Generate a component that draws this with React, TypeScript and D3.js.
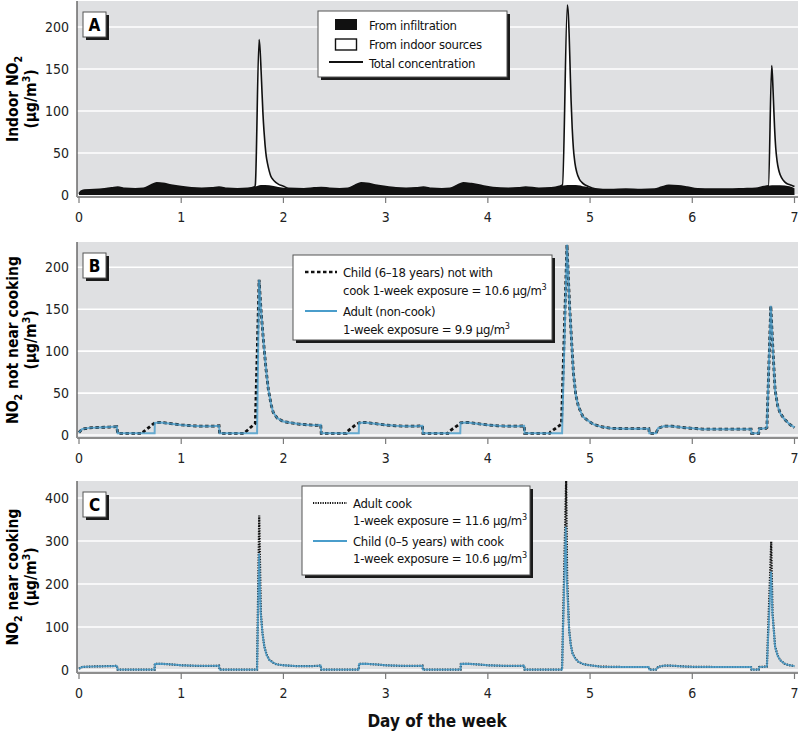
import React from 'react';
import * as d3 from 'd3';

type Pt = [number, number];

// ---- data (day, µg/m3) ----
const days = [0, 1, 2, 3, 4, 5, 6, 7];
const ticksAB = [0, 50, 100, 150, 200];
const ticksC = [0, 100, 200, 300, 400];

const infiltration: Pt[] = [
  [0, 1.5], [0.02, 4.5], [0.05, 6], [0.15, 6.5], [0.25, 7.5], [0.32, 8.5], [0.38, 9.5], [0.45, 8], [0.55, 7.5],
  [0.63, 8], [0.7, 11.5], [0.76, 14.5], [0.82, 14], [0.9, 12], [1.0, 10], [1.1, 8.5], [1.2, 8], [1.3, 8.5],
  [1.37, 9.5], [1.45, 8], [1.55, 7.5], [1.65, 8], [1.72, 10], [1.78, 12], [1.86, 11.5], [1.95, 9.5], [2.05, 8],
  [2.2, 7.5], [2.3, 8.5], [2.37, 9], [2.45, 8], [2.55, 7.5], [2.63, 8], [2.7, 11.5], [2.76, 14.5], [2.82, 14],
  [2.9, 12], [3.0, 10], [3.1, 8.5], [3.2, 8], [3.3, 8.5], [3.37, 9.5], [3.45, 8], [3.55, 7.5], [3.63, 8],
  [3.7, 11.5], [3.76, 14.5], [3.84, 13.5], [3.95, 11], [4.05, 9], [4.2, 8], [4.3, 8.5], [4.37, 9.5], [4.5, 8],
  [4.62, 8.5], [4.7, 10.5], [4.78, 12], [4.86, 12], [4.95, 10], [5.05, 7.5], [5.2, 6.5], [5.35, 7], [5.5, 6.5],
  [5.63, 7], [5.7, 9.5], [5.77, 11.5], [5.86, 11], [5.95, 9.5], [6.05, 7.5], [6.2, 7], [6.35, 7], [6.5, 7.5],
  [6.62, 8], [6.7, 10], [6.78, 11.5], [6.86, 11.5], [6.95, 10.5], [7.0, 8],
];

const totalConc: Pt[] = [
  [0, 1.5], [0.02, 4.5], [0.05, 6], [0.15, 6.5], [0.25, 7.5], [0.32, 8.5], [0.38, 9.5], [0.45, 8], [0.55, 7.5],
  [0.63, 8], [0.7, 11.5], [0.76, 14.5], [0.82, 14], [0.9, 12], [1.0, 10], [1.1, 8.5], [1.2, 8], [1.3, 8.5],
  [1.37, 9.5], [1.45, 8], [1.55, 7.5], [1.65, 8], [1.72, 10], [1.725, 12], [1.762, 185], [1.772, 172], [1.786, 135],
  [1.8, 96], [1.81, 76], [1.82, 60], [1.832, 46], [1.845, 37], [1.86, 29], [1.875, 23], [1.9, 18], [1.925, 15],
  [1.95, 13], [1.975, 11.5], [2.0, 10.5], [2.05, 8],
  [2.2, 7.5], [2.3, 8.5], [2.37, 9], [2.45, 8], [2.55, 7.5], [2.63, 8], [2.7, 11.5], [2.76, 14.5], [2.82, 14],
  [2.9, 12], [3.0, 10], [3.1, 8.5], [3.2, 8], [3.3, 8.5], [3.37, 9.5], [3.45, 8], [3.55, 7.5], [3.63, 8],
  [3.7, 11.5], [3.76, 14.5], [3.84, 13.5], [3.95, 11], [4.05, 9], [4.2, 8], [4.3, 8.5], [4.37, 9.5], [4.5, 8],
  [4.62, 8.5], [4.7, 10.5], [4.73, 12], [4.778, 226], [4.787, 215], [4.795, 192], [4.805, 150], [4.814, 113],
  [4.825, 80], [4.837, 55], [4.852, 38], [4.87, 27], [4.895, 19], [4.92, 15], [4.945, 12.5], [4.97, 11],
  [5.05, 7.5], [5.2, 6.5], [5.35, 7], [5.5, 6.5],
  [5.63, 7], [5.7, 9.5], [5.77, 11.5], [5.86, 11], [5.95, 9.5], [6.05, 7.5], [6.2, 7], [6.35, 7], [6.5, 7.5],
  [6.62, 8], [6.7, 10], [6.745, 11], [6.777, 154], [6.785, 140], [6.794, 113], [6.805, 80], [6.817, 55],
  [6.83, 40], [6.845, 30], [6.86, 24], [6.89, 17.5], [6.92, 14], [6.95, 12.5], [6.97, 11.5], [7.0, 10],
];

const childNotWithCook: Pt[] = [
  [0, 3], [0.03, 7], [0.1, 8.5], [0.2, 9], [0.3, 9.5], [0.37, 10], [0.378, 2], [0.625, 2], [0.632, 4], [0.715, 12],
  [0.742, 14.5], [0.8, 15], [0.9, 13.5], [1.0, 12], [1.1, 11], [1.2, 10.5], [1.3, 10.5], [1.37, 11], [1.376, 2],
  [1.62, 2], [1.628, 3.5], [1.725, 14], [1.762, 185], [1.78, 150], [1.804, 113], [1.83, 78], [1.853, 54],
  [1.88, 36], [1.9, 27], [1.94, 20], [2.0, 16], [2.07, 14.5], [2.15, 13], [2.25, 12], [2.33, 11.5], [2.365, 12],
  [2.37, 2], [2.615, 2], [2.622, 4], [2.705, 12], [2.74, 14.5], [2.8, 15], [2.9, 13.5], [3.0, 12], [3.1, 11],
  [3.2, 10.5], [3.3, 10.5], [3.36, 11], [3.365, 2], [3.61, 2], [3.617, 4], [3.71, 12], [3.733, 14.5], [3.8, 15],
  [3.9, 13.5], [4.0, 12], [4.1, 11], [4.2, 10.5], [4.3, 10.5], [4.355, 11], [4.36, 2], [4.605, 2], [4.612, 3.5],
  [4.72, 13], [4.774, 227], [4.8, 153], [4.837, 74], [4.86, 48], [4.886, 34], [4.93, 22], [4.97, 18], [5.03, 13],
  [5.1, 10], [5.2, 8], [5.35, 7.5], [5.5, 7.5], [5.575, 7.5], [5.58, 2], [5.645, 2], [5.665, 8], [5.72, 10.5],
  [5.8, 10.5], [5.9, 9], [6.0, 8], [6.1, 7], [6.3, 7], [6.575, 7], [6.58, 2], [6.65, 2], [6.655, 7.5], [6.72, 8],
  [6.73, 9], [6.768, 154], [6.784, 113], [6.81, 54], [6.835, 35], [6.86, 26], [6.9, 19], [6.925, 16], [6.96, 12],
  [7.0, 9],
];

const adultNonCook: Pt[] = [
  [0, 3], [0.03, 7], [0.1, 8.5], [0.2, 9], [0.3, 9.5], [0.37, 10], [0.378, 2], [0.74, 2],
  [0.742, 14.5], [0.8, 15], [0.9, 13.5], [1.0, 12], [1.1, 11], [1.2, 10.5], [1.3, 10.5], [1.37, 11], [1.376, 2],
  [1.742, 2], [1.762, 185], [1.78, 150], [1.804, 113], [1.83, 78], [1.853, 54],
  [1.88, 36], [1.9, 27], [1.94, 20], [2.0, 16], [2.07, 14.5], [2.15, 13], [2.25, 12], [2.33, 11.5], [2.365, 12],
  [2.37, 2], [2.737, 2], [2.74, 14.5], [2.8, 15], [2.9, 13.5], [3.0, 12], [3.1, 11],
  [3.2, 10.5], [3.3, 10.5], [3.36, 11], [3.365, 2], [3.73, 2], [3.733, 14.5], [3.8, 15],
  [3.9, 13.5], [4.0, 12], [4.1, 11], [4.2, 10.5], [4.3, 10.5], [4.355, 11], [4.36, 2], [4.726, 2],
  [4.774, 227], [4.8, 153], [4.837, 74], [4.86, 48], [4.886, 34], [4.93, 22], [4.97, 18], [5.03, 13],
  [5.1, 10], [5.2, 8], [5.35, 7.5], [5.5, 7.5], [5.575, 7.5], [5.58, 2], [5.645, 2], [5.665, 8], [5.72, 10.5],
  [5.8, 10.5], [5.9, 9], [6.0, 8], [6.1, 7], [6.3, 7], [6.575, 7], [6.58, 2], [6.65, 2], [6.655, 7.5], [6.72, 8],
  [6.73, 9], [6.768, 154], [6.784, 113], [6.81, 54], [6.835, 35], [6.86, 26], [6.9, 19], [6.925, 16], [6.96, 12],
  [7.0, 9],
];

const adultCook: Pt[] = [
  [0, 3], [0.03, 7], [0.1, 8], [0.2, 8.5], [0.3, 9], [0.37, 9.5], [0.378, 1], [0.74, 1], [0.742, 14], [0.8, 14.5],
  [0.9, 13], [1.0, 11], [1.1, 10], [1.2, 9.5], [1.3, 9.5], [1.37, 10], [1.376, 1], [1.742, 1], [1.763, 359],
  [1.779, 133], [1.795, 86], [1.813, 55], [1.835, 36], [1.862, 24], [1.9, 17], [1.934, 13], [2.0, 11], [2.13, 9],
  [2.25, 9], [2.33, 9.5], [2.365, 10.5], [2.37, 1], [2.737, 1], [2.74, 14], [2.8, 14.5], [2.9, 13], [3.0, 11],
  [3.1, 10], [3.2, 9.5], [3.3, 9.5], [3.36, 10], [3.365, 1], [3.733, 1], [3.736, 14], [3.8, 14.5], [3.9, 13],
  [4.0, 11], [4.1, 10], [4.2, 9.5], [4.3, 9.5], [4.355, 10], [4.36, 1], [4.726, 1], [4.766, 445], [4.776, 212],
  [4.795, 94], [4.81, 61], [4.827, 40], [4.855, 27], [4.886, 19], [4.93, 14], [4.97, 12], [5.1, 8], [5.3, 7],
  [5.575, 7], [5.58, 1], [5.645, 1], [5.665, 7], [5.72, 10], [5.8, 10], [5.9, 8.5], [6.0, 7.5], [6.2, 7],
  [6.575, 7], [6.58, 1], [6.65, 1], [6.655, 7], [6.73, 8], [6.772, 298], [6.785, 133], [6.81, 55], [6.835, 34],
  [6.86, 23], [6.9, 15], [6.935, 12], [7.0, 9],
];

const childWithCook: Pt[] = [
  [0, 3], [0.03, 7], [0.1, 8], [0.2, 8.5], [0.3, 9], [0.37, 9.5], [0.378, 1], [0.74, 1], [0.742, 14], [0.8, 14.5],
  [0.9, 13], [1.0, 11], [1.1, 10], [1.2, 9.5], [1.3, 9.5], [1.37, 10], [1.376, 1], [1.742, 1], [1.762, 271],
  [1.778, 132], [1.795, 85], [1.813, 54], [1.835, 35], [1.862, 23], [1.9, 17], [1.934, 13], [2.0, 11], [2.13, 9],
  [2.25, 9], [2.33, 9.5], [2.365, 10.5], [2.37, 1], [2.737, 1], [2.74, 14], [2.8, 14.5], [2.9, 13], [3.0, 11],
  [3.1, 10], [3.2, 9.5], [3.3, 9.5], [3.36, 10], [3.365, 1], [3.733, 1], [3.736, 14], [3.8, 14.5], [3.9, 13],
  [4.0, 11], [4.1, 10], [4.2, 9.5], [4.3, 9.5], [4.355, 10], [4.36, 1], [4.726, 1], [4.762, 333], [4.772, 209],
  [4.795, 93], [4.81, 60], [4.827, 39], [4.855, 26], [4.886, 19], [4.93, 14], [4.97, 12], [5.1, 8], [5.3, 7],
  [5.575, 7], [5.58, 1], [5.645, 1], [5.665, 7], [5.72, 10], [5.8, 10], [5.9, 8.5], [6.0, 7.5], [6.2, 7],
  [6.575, 7], [6.58, 1], [6.65, 1], [6.655, 7], [6.73, 8], [6.771, 229], [6.784, 132], [6.81, 54], [6.835, 33],
  [6.86, 23], [6.9, 15], [6.935, 12], [7.0, 9],
];

const legendA = ['From infiltration', 'From indoor sources', 'Total concentration'];
const legendB = ['Child (6–18 years) not with', 'cook 1-week exposure = 10.6 µg/m', 'Adult (non-cook)', '1-week exposure = 9.9 µg/m'];
const legendC = ['Adult cook', '1-week exposure = 11.6 µg/m', 'Child (0–5 years) with cook', '1-week exposure = 10.6 µg/m'];

const FONT = "'DejaVu Sans Condensed', 'Liberation Sans Narrow', 'Arial Narrow', sans-serif";
const BLUE = '#4a9dcb';
const BG = '#dfe0e2';

const plotLeft = 77;
const plotRight = 798;

const x = d3.scaleLinear().domain([0, 7]).range([79, 794.5]);

function LabelBox({ x0, y0, text }: { x0: number; y0: number; text: string }) {
  return (
    <g>
      <rect x={x0 + 3} y={y0 + 3} width={23} height={25} fill="#1a1a1a" />
      <rect x={x0} y={y0} width={23} height={25} fill="#fff" stroke="#555" strokeWidth={1} />
      <text x={x0 + 11.5} y={y0 + 18.5} textAnchor="middle" fontWeight="bold" fontSize={17} fontFamily={FONT}>{text}</text>
    </g>
  );
}

function Sup({ t }: { t: string }) {
  return (
    <>
      {t}
      <tspan dy={-5} fontSize={9}>3</tspan>
    </>
  );
}

function Panel(props: {
  id: string; top: number; bottom: number; y: d3.ScaleLinear<number, number>; ticks: number[];
  label: string; title: string; titleAfter: string; children?: React.ReactNode;
}) {
  const { id, top, bottom, y, ticks, label, title, titleAfter } = props;
  const cy = (top + bottom) / 2;
  return (
    <g>
      <defs>
        <clipPath id={id}>
          <rect x={plotLeft} y={top} width={plotRight - plotLeft} height={bottom - top} />
        </clipPath>
      </defs>
      <rect x={plotLeft} y={top} width={plotRight - plotLeft} height={bottom - top} fill={BG} />
      {ticks.map(t => (
        <line key={t} x1={plotLeft} x2={plotRight} y1={y(t)} y2={y(t)} stroke="#fff" strokeWidth={1.6} />
      ))}
      {ticks.map(t => (
        <text key={'l' + t} x={69} y={y(t) + 5} textAnchor="end" fontSize={14} fontFamily={FONT} fill="#222">{t}</text>
      ))}
      <g clipPath={`url(#${id})`}>{props.children}</g>
      <line x1={plotLeft} x2={plotLeft} y1={top} y2={bottom} stroke="#555" strokeWidth={1.3} />
      <line x1={plotLeft} x2={plotRight} y1={bottom} y2={bottom} stroke="#8e8e8e" strokeWidth={2.2} />
      {days.map(d => (
        <g key={d}>
          <line x1={x(d)} x2={x(d)} y1={bottom} y2={bottom + 6} stroke="#7a7a7a" strokeWidth={1.2} />
          <text x={x(d)} y={bottom + 25} textAnchor="middle" fontSize={14} fontFamily={FONT} fill="#222">{d}</text>
        </g>
      ))}
      <text transform={`translate(18,${cy}) rotate(-90)`} textAnchor="middle" fontWeight="bold" fontSize={15.5} fontFamily={FONT}>
        {title}<tspan dy={4} fontSize={10.5}>2</tspan><tspan dy={-4}>{titleAfter}</tspan>
      </text>
      <text transform={`translate(36,${cy}) rotate(-90)`} textAnchor="middle" fontWeight="bold" fontSize={15.5} fontFamily={FONT}>
        (µg/m<tspan dy={-6} fontSize={10.5}>3</tspan><tspan dy={6}>)</tspan>
      </text>
      <LabelBox x0={83} y0={top + 11} text={label} />
    </g>
  );
}

export default function App() {
  const yA = d3.scaleLinear().domain([0, 200]).range([195, 27]);
  const yB = d3.scaleLinear().domain([0, 200]).range([435, 267.3]);
  const yC = d3.scaleLinear().domain([0, 400]).range([670, 498]);

  const lineOf = (y: d3.ScaleLinear<number, number>) =>
    d3.line<Pt>().x(d => x(d[0])).y(d => y(d[1]));
  const smoothLine = (y: d3.ScaleLinear<number, number>) =>
    d3.line<Pt>().x(d => x(d[0])).y(d => y(d[1])).curve(d3.curveMonotoneX);
  const areaOf = (y: d3.ScaleLinear<number, number>) =>
    d3.area<Pt>().x(d => x(d[0])).y0(y(0)).y1(d => y(d[1])).curve(d3.curveMonotoneX);

  const txt = { fontSize: 13, fontFamily: FONT, fill: '#111', letterSpacing: -0.3 } as const;

  return (
    <svg width={800} height={731} style={{ position: 'absolute', left: 0, top: 0, background: '#fff' }}>
      {/* Panel A */}
      <Panel id="clipA" top={1} bottom={197} y={yA} ticks={ticksAB} label="A" title="Indoor NO" titleAfter="">
        <path d={areaOf(yA)(totalConc) ?? ''} fill="#fff" />
        <path d={areaOf(yA)(infiltration) ?? ''} fill="#111" />
        <path d={smoothLine(yA)(totalConc) ?? ''} fill="none" stroke="#111" strokeWidth={1.6} />
      </Panel>

      {/* Panel B */}
      <Panel id="clipB" top={242} bottom={438} y={yB} ticks={ticksAB} label="B" title="NO" titleAfter=" not near cooking">
        <path d={lineOf(yB)(childNotWithCook) ?? ''} fill="none" stroke="#111" strokeWidth={2.8} strokeDasharray="3.5,2.5" />
        <path d={lineOf(yB)(adultNonCook) ?? ''} fill="none" stroke={BLUE} strokeWidth={2} opacity={0.82} />
      </Panel>

      {/* Panel C */}
      <Panel id="clipC" top={481} bottom={673} y={yC} ticks={ticksC} label="C" title="NO" titleAfter=" near cooking">
        <path d={lineOf(yC)(adultCook) ?? ''} fill="none" stroke="#111" strokeWidth={2.2} strokeDasharray="1.3,1.3" />
        <path d={lineOf(yC)(childWithCook) ?? ''} fill="none" stroke={BLUE} strokeWidth={1.8} opacity={0.85} />
      </Panel>

      {/* Legend A */}
      <g>
        <rect x={321} y={14} width={189} height={66} fill="#1a1a1a" />
        <rect x={318} y={11} width={189} height={66} fill="#fff" stroke="#555" />
        <rect x={335} y={19} width={22} height={11} fill="#111" />
        <rect x={335.5} y={39} width={21} height={11} fill="#fff" stroke="#111" strokeWidth={1.4} />
        <line x1={329} x2={363} y1={62} y2={62} stroke="#111" strokeWidth={1.8} />
        {legendA.map((t, i) => (
          <text key={t} x={369} y={30 + i * 19} {...txt}>{t}</text>
        ))}
      </g>

      {/* Legend B */}
      <g>
        <rect x={296} y={258} width={259} height={85} fill="#1a1a1a" />
        <rect x={293} y={255} width={259} height={85} fill="#fff" stroke="#555" />
        <line x1={305} x2={337} y1={272} y2={272} stroke="#111" strokeWidth={2.4} strokeDasharray="3.5,2.5" />
        <line x1={305} x2={337} y1={311} y2={311} stroke={BLUE} strokeWidth={2} />
        <text x={343} y={277} {...txt}>{legendB[0]}</text>
        <text x={343} y={295} {...txt}><Sup t={legendB[1]} /></text>
        <text x={343} y={316} {...txt}>{legendB[2]}</text>
        <text x={343} y={334} {...txt}><Sup t={legendB[3]} /></text>
      </g>

      {/* Legend C */}
      <g>
        <rect x={305} y={489} width={228} height={89} fill="#1a1a1a" />
        <rect x={302} y={486} width={228} height={89} fill="#fff" stroke="#555" />
        <line x1={313} x2={347} y1={503} y2={503} stroke="#111" strokeWidth={1.8} strokeDasharray="1.2,1.2" />
        <line x1={313} x2={347} y1={541} y2={541} stroke={BLUE} strokeWidth={2} />
        <text x={353} y={508} {...txt}>{legendC[0]}</text>
        <text x={353} y={525} {...txt}><Sup t={legendC[1]} /></text>
        <text x={353} y={546} {...txt}>{legendC[2]}</text>
        <text x={353} y={563} {...txt}><Sup t={legendC[3]} /></text>
      </g>

      <text x={437} y={727} textAnchor="middle" fontWeight="bold" fontSize={17} fontFamily={FONT} fill="#111">Day of the week</text>
    </svg>
  );
}
